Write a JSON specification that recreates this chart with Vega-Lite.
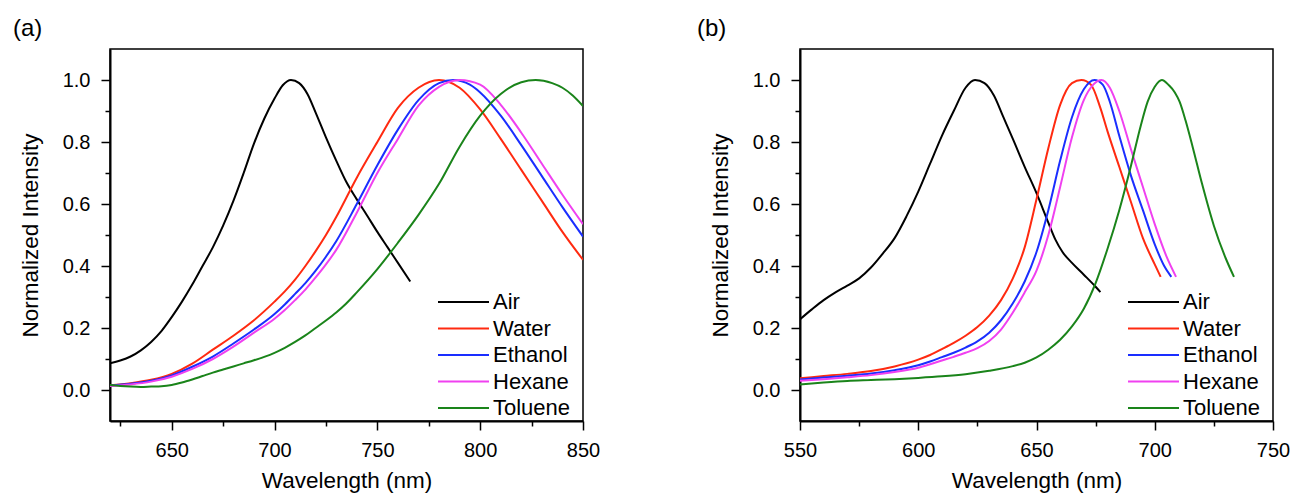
{
  "$schema": "https://vega.github.io/schema/vega-lite/v6.json",
  "background": "white",
  "padding": {"left": 12, "top": 16, "right": 5, "bottom": 0},
  "spacing": 95,
  "config": {
    "font": "Liberation Sans",
    "view": {"stroke": "black", "strokeWidth": 1.5},
    "axis": {"domainColor": "black", "domainWidth": 2, "tickColor": "black", "tickWidth": 1.5, "grid": false, "labelFontSize": 20, "titleFontSize": 22.5, "labelColor": "black", "titleColor": "black", "titleFontWeight": "normal", "labelFont": "Liberation Sans", "titleFont": "Liberation Sans"},
    "legend": {"labelFont": "Liberation Sans", "labelFontSize": 22, "labelColor": "black"},
    "title": {"fontSize": 24, "fontWeight": "normal", "anchor": "start", "frame": "group", "font": "Liberation Sans", "color": "black", "baseline": "alphabetic"}
  },
  "datasets": {
    "a": [
      {"s":"Air","wl":620,"I":0.086},{"s":"Air","wl":625,"I":0.095},{"s":"Air","wl":630,"I":0.108},{"s":"Air","wl":635,"I":0.128},{"s":"Air","wl":640,"I":0.155},{"s":"Air","wl":645,"I":0.19},{"s":"Air","wl":650,"I":0.235},{"s":"Air","wl":655,"I":0.285},{"s":"Air","wl":660,"I":0.34},{"s":"Air","wl":665,"I":0.4},{"s":"Air","wl":670,"I":0.46},{"s":"Air","wl":675,"I":0.53},{"s":"Air","wl":680,"I":0.61},{"s":"Air","wl":685,"I":0.7},{"s":"Air","wl":690,"I":0.795},{"s":"Air","wl":695,"I":0.875},{"s":"Air","wl":700,"I":0.94},{"s":"Air","wl":704,"I":0.983},{"s":"Air","wl":708,"I":1.0},{"s":"Air","wl":712,"I":0.99},{"s":"Air","wl":716,"I":0.955},{"s":"Air","wl":720,"I":0.895},{"s":"Air","wl":725,"I":0.815},{"s":"Air","wl":730,"I":0.74},{"s":"Air","wl":735,"I":0.67},{"s":"Air","wl":740,"I":0.615},{"s":"Air","wl":745,"I":0.563},{"s":"Air","wl":750,"I":0.51},{"s":"Air","wl":755,"I":0.46},{"s":"Air","wl":760,"I":0.41},{"s":"Air","wl":766,"I":0.35},
      {"s":"Water","wl":620,"I":0.015},{"s":"Water","wl":630,"I":0.022},{"s":"Water","wl":640,"I":0.033},{"s":"Water","wl":650,"I":0.052},{"s":"Water","wl":660,"I":0.085},{"s":"Water","wl":670,"I":0.13},{"s":"Water","wl":680,"I":0.175},{"s":"Water","wl":690,"I":0.225},{"s":"Water","wl":700,"I":0.285},{"s":"Water","wl":705,"I":0.318},{"s":"Water","wl":710,"I":0.356},{"s":"Water","wl":715,"I":0.4},{"s":"Water","wl":720,"I":0.448},{"s":"Water","wl":725,"I":0.5},{"s":"Water","wl":730,"I":0.558},{"s":"Water","wl":740,"I":0.685},{"s":"Water","wl":750,"I":0.8},{"s":"Water","wl":760,"I":0.91},{"s":"Water","wl":770,"I":0.975},{"s":"Water","wl":780,"I":1.0},{"s":"Water","wl":790,"I":0.975},{"s":"Water","wl":800,"I":0.905},{"s":"Water","wl":810,"I":0.81},{"s":"Water","wl":820,"I":0.71},{"s":"Water","wl":830,"I":0.61},{"s":"Water","wl":840,"I":0.51},{"s":"Water","wl":850,"I":0.42},
      {"s":"Ethanol","wl":620,"I":0.014},{"s":"Ethanol","wl":630,"I":0.02},{"s":"Ethanol","wl":640,"I":0.03},{"s":"Ethanol","wl":650,"I":0.047},{"s":"Ethanol","wl":660,"I":0.075},{"s":"Ethanol","wl":670,"I":0.108},{"s":"Ethanol","wl":680,"I":0.15},{"s":"Ethanol","wl":690,"I":0.195},{"s":"Ethanol","wl":700,"I":0.245},{"s":"Ethanol","wl":705,"I":0.276},{"s":"Ethanol","wl":710,"I":0.31},{"s":"Ethanol","wl":715,"I":0.345},{"s":"Ethanol","wl":720,"I":0.385},{"s":"Ethanol","wl":725,"I":0.43},{"s":"Ethanol","wl":730,"I":0.48},{"s":"Ethanol","wl":740,"I":0.6},{"s":"Ethanol","wl":750,"I":0.725},{"s":"Ethanol","wl":760,"I":0.84},{"s":"Ethanol","wl":770,"I":0.935},{"s":"Ethanol","wl":780,"I":0.99},{"s":"Ethanol","wl":787,"I":1.0},{"s":"Ethanol","wl":795,"I":0.985},{"s":"Ethanol","wl":800,"I":0.96},{"s":"Ethanol","wl":810,"I":0.885},{"s":"Ethanol","wl":820,"I":0.79},{"s":"Ethanol","wl":830,"I":0.69},{"s":"Ethanol","wl":840,"I":0.59},{"s":"Ethanol","wl":850,"I":0.495},
      {"s":"Hexane","wl":620,"I":0.013},{"s":"Hexane","wl":630,"I":0.018},{"s":"Hexane","wl":640,"I":0.027},{"s":"Hexane","wl":650,"I":0.043},{"s":"Hexane","wl":660,"I":0.068},{"s":"Hexane","wl":670,"I":0.1},{"s":"Hexane","wl":680,"I":0.14},{"s":"Hexane","wl":690,"I":0.185},{"s":"Hexane","wl":700,"I":0.23},{"s":"Hexane","wl":705,"I":0.258},{"s":"Hexane","wl":710,"I":0.29},{"s":"Hexane","wl":715,"I":0.324},{"s":"Hexane","wl":720,"I":0.363},{"s":"Hexane","wl":725,"I":0.405},{"s":"Hexane","wl":730,"I":0.452},{"s":"Hexane","wl":740,"I":0.572},{"s":"Hexane","wl":750,"I":0.7},{"s":"Hexane","wl":760,"I":0.81},{"s":"Hexane","wl":770,"I":0.917},{"s":"Hexane","wl":780,"I":0.978},{"s":"Hexane","wl":790,"I":1.0},{"s":"Hexane","wl":800,"I":0.985},{"s":"Hexane","wl":810,"I":0.92},{"s":"Hexane","wl":820,"I":0.83},{"s":"Hexane","wl":830,"I":0.73},{"s":"Hexane","wl":840,"I":0.63},{"s":"Hexane","wl":850,"I":0.535},
      {"s":"Toluene","wl":620,"I":0.016},{"s":"Toluene","wl":625,"I":0.013},{"s":"Toluene","wl":630,"I":0.011},{"s":"Toluene","wl":635,"I":0.01},{"s":"Toluene","wl":640,"I":0.011},{"s":"Toluene","wl":645,"I":0.012},{"s":"Toluene","wl":650,"I":0.016},{"s":"Toluene","wl":655,"I":0.024},{"s":"Toluene","wl":660,"I":0.034},{"s":"Toluene","wl":665,"I":0.045},{"s":"Toluene","wl":670,"I":0.056},{"s":"Toluene","wl":675,"I":0.066},{"s":"Toluene","wl":680,"I":0.076},{"s":"Toluene","wl":685,"I":0.086},{"s":"Toluene","wl":690,"I":0.096},{"s":"Toluene","wl":695,"I":0.107},{"s":"Toluene","wl":700,"I":0.12},{"s":"Toluene","wl":705,"I":0.136},{"s":"Toluene","wl":710,"I":0.155},{"s":"Toluene","wl":715,"I":0.176},{"s":"Toluene","wl":720,"I":0.2},{"s":"Toluene","wl":725,"I":0.224},{"s":"Toluene","wl":730,"I":0.25},{"s":"Toluene","wl":735,"I":0.28},{"s":"Toluene","wl":740,"I":0.315},{"s":"Toluene","wl":750,"I":0.39},{"s":"Toluene","wl":760,"I":0.475},{"s":"Toluene","wl":770,"I":0.565},{"s":"Toluene","wl":780,"I":0.665},{"s":"Toluene","wl":790,"I":0.785},{"s":"Toluene","wl":800,"I":0.885},{"s":"Toluene","wl":810,"I":0.955},{"s":"Toluene","wl":820,"I":0.993},{"s":"Toluene","wl":827,"I":1.0},{"s":"Toluene","wl":835,"I":0.99},{"s":"Toluene","wl":840,"I":0.975},{"s":"Toluene","wl":845,"I":0.95},{"s":"Toluene","wl":850,"I":0.916}
    ],
    "b": [
      {"s":"Air","wl":550,"I":0.228},{"s":"Air","wl":555,"I":0.26},{"s":"Air","wl":560,"I":0.29},{"s":"Air","wl":565,"I":0.315},{"s":"Air","wl":570,"I":0.337},{"s":"Air","wl":575,"I":0.36},{"s":"Air","wl":580,"I":0.395},{"s":"Air","wl":585,"I":0.44},{"s":"Air","wl":590,"I":0.49},{"s":"Air","wl":595,"I":0.56},{"s":"Air","wl":600,"I":0.64},{"s":"Air","wl":605,"I":0.73},{"s":"Air","wl":610,"I":0.82},{"s":"Air","wl":615,"I":0.9},{"s":"Air","wl":620,"I":0.975},{"s":"Air","wl":624,"I":1.0},{"s":"Air","wl":628,"I":0.99},{"s":"Air","wl":632,"I":0.95},{"s":"Air","wl":636,"I":0.88},{"s":"Air","wl":640,"I":0.81},{"s":"Air","wl":645,"I":0.72},{"s":"Air","wl":650,"I":0.635},{"s":"Air","wl":655,"I":0.54},{"s":"Air","wl":658,"I":0.485},{"s":"Air","wl":661,"I":0.445},{"s":"Air","wl":665,"I":0.41},{"s":"Air","wl":670,"I":0.372},{"s":"Air","wl":675,"I":0.333},{"s":"Air","wl":677,"I":0.316},
      {"s":"Water","wl":550,"I":0.038},{"s":"Water","wl":560,"I":0.045},{"s":"Water","wl":570,"I":0.052},{"s":"Water","wl":580,"I":0.061},{"s":"Water","wl":590,"I":0.076},{"s":"Water","wl":600,"I":0.098},{"s":"Water","wl":605,"I":0.113},{"s":"Water","wl":610,"I":0.132},{"s":"Water","wl":615,"I":0.152},{"s":"Water","wl":620,"I":0.175},{"s":"Water","wl":625,"I":0.203},{"s":"Water","wl":630,"I":0.24},{"s":"Water","wl":635,"I":0.29},{"s":"Water","wl":640,"I":0.36},{"s":"Water","wl":645,"I":0.46},{"s":"Water","wl":650,"I":0.615},{"s":"Water","wl":655,"I":0.78},{"s":"Water","wl":660,"I":0.92},{"s":"Water","wl":665,"I":0.99},{"s":"Water","wl":669,"I":1.0},{"s":"Water","wl":673,"I":0.985},{"s":"Water","wl":677,"I":0.91},{"s":"Water","wl":680,"I":0.835},{"s":"Water","wl":685,"I":0.72},{"s":"Water","wl":690,"I":0.605},{"s":"Water","wl":695,"I":0.49},{"s":"Water","wl":700,"I":0.405},{"s":"Water","wl":702.5,"I":0.365},
      {"s":"Ethanol","wl":550,"I":0.034},{"s":"Ethanol","wl":560,"I":0.04},{"s":"Ethanol","wl":570,"I":0.046},{"s":"Ethanol","wl":580,"I":0.053},{"s":"Ethanol","wl":590,"I":0.064},{"s":"Ethanol","wl":600,"I":0.08},{"s":"Ethanol","wl":605,"I":0.092},{"s":"Ethanol","wl":610,"I":0.106},{"s":"Ethanol","wl":615,"I":0.12},{"s":"Ethanol","wl":620,"I":0.137},{"s":"Ethanol","wl":625,"I":0.157},{"s":"Ethanol","wl":630,"I":0.185},{"s":"Ethanol","wl":635,"I":0.225},{"s":"Ethanol","wl":640,"I":0.28},{"s":"Ethanol","wl":645,"I":0.35},{"s":"Ethanol","wl":650,"I":0.445},{"s":"Ethanol","wl":655,"I":0.58},{"s":"Ethanol","wl":660,"I":0.74},{"s":"Ethanol","wl":665,"I":0.88},{"s":"Ethanol","wl":670,"I":0.97},{"s":"Ethanol","wl":674.5,"I":1.0},{"s":"Ethanol","wl":678,"I":0.985},{"s":"Ethanol","wl":681,"I":0.93},{"s":"Ethanol","wl":685,"I":0.82},{"s":"Ethanol","wl":690,"I":0.69},{"s":"Ethanol","wl":695,"I":0.58},{"s":"Ethanol","wl":700,"I":0.47},{"s":"Ethanol","wl":704,"I":0.4},{"s":"Ethanol","wl":707,"I":0.365},
      {"s":"Hexane","wl":550,"I":0.03},{"s":"Hexane","wl":560,"I":0.035},{"s":"Hexane","wl":570,"I":0.041},{"s":"Hexane","wl":580,"I":0.048},{"s":"Hexane","wl":590,"I":0.058},{"s":"Hexane","wl":600,"I":0.072},{"s":"Hexane","wl":605,"I":0.083},{"s":"Hexane","wl":610,"I":0.095},{"s":"Hexane","wl":615,"I":0.107},{"s":"Hexane","wl":620,"I":0.12},{"s":"Hexane","wl":625,"I":0.135},{"s":"Hexane","wl":630,"I":0.158},{"s":"Hexane","wl":635,"I":0.195},{"s":"Hexane","wl":640,"I":0.25},{"s":"Hexane","wl":645,"I":0.315},{"s":"Hexane","wl":650,"I":0.385},{"s":"Hexane","wl":655,"I":0.5},{"s":"Hexane","wl":660,"I":0.655},{"s":"Hexane","wl":665,"I":0.815},{"s":"Hexane","wl":670,"I":0.935},{"s":"Hexane","wl":674,"I":0.985},{"s":"Hexane","wl":677.5,"I":1.0},{"s":"Hexane","wl":681,"I":0.975},{"s":"Hexane","wl":685,"I":0.9},{"s":"Hexane","wl":690,"I":0.775},{"s":"Hexane","wl":695,"I":0.655},{"s":"Hexane","wl":700,"I":0.535},{"s":"Hexane","wl":705,"I":0.43},{"s":"Hexane","wl":709,"I":0.365},
      {"s":"Toluene","wl":550,"I":0.018},{"s":"Toluene","wl":560,"I":0.024},{"s":"Toluene","wl":570,"I":0.029},{"s":"Toluene","wl":580,"I":0.032},{"s":"Toluene","wl":590,"I":0.035},{"s":"Toluene","wl":600,"I":0.039},{"s":"Toluene","wl":610,"I":0.044},{"s":"Toluene","wl":620,"I":0.051},{"s":"Toluene","wl":630,"I":0.062},{"s":"Toluene","wl":640,"I":0.077},{"s":"Toluene","wl":645,"I":0.088},{"s":"Toluene","wl":650,"I":0.105},{"s":"Toluene","wl":655,"I":0.13},{"s":"Toluene","wl":660,"I":0.162},{"s":"Toluene","wl":665,"I":0.205},{"s":"Toluene","wl":670,"I":0.262},{"s":"Toluene","wl":675,"I":0.345},{"s":"Toluene","wl":680,"I":0.455},{"s":"Toluene","wl":685,"I":0.58},{"s":"Toluene","wl":690,"I":0.725},{"s":"Toluene","wl":694,"I":0.85},{"s":"Toluene","wl":697,"I":0.93},{"s":"Toluene","wl":700,"I":0.978},{"s":"Toluene","wl":703,"I":1.0},{"s":"Toluene","wl":706,"I":0.983},{"s":"Toluene","wl":708.5,"I":0.96},{"s":"Toluene","wl":710.5,"I":0.93},{"s":"Toluene","wl":713,"I":0.87},{"s":"Toluene","wl":716,"I":0.785},{"s":"Toluene","wl":720,"I":0.665},{"s":"Toluene","wl":725,"I":0.53},{"s":"Toluene","wl":730,"I":0.425},{"s":"Toluene","wl":733.5,"I":0.365}
    ]
  },
  "hconcat": [
    {
      "title": {"text": "(a)", "dx": -97, "offset": 8},
      "width": 473,
      "height": 372,
      "data": {"name": "a"},
      "mark": {"type": "line", "strokeWidth": 2, "clip": true, "interpolate": "monotone"},
      "encoding": {
        "x": {"field": "wl", "type": "quantitative", "title": "Wavelength (nm)",
          "scale": {"domain": [620, 850], "nice": false, "zero": false},
          "axis": {"values": [625, 650, 675, 700, 725, 750, 775, 800, 825, 850], "labelExpr": "datum.value % 50 === 0 ? datum.label : ''",
            "tickSize": {"condition": {"test": "datum.value % 50 === 0", "value": 9}, "value": 5},
            "labelPadding": 10, "titlePadding": 9, "labelFlush": false}},
        "y": {"field": "I", "type": "quantitative", "title": "Normalized Intensity",
          "scale": {"domain": [-0.1, 1.1], "nice": false, "zero": false},
          "axis": {"values": [0, 0.1, 0.2, 0.3, 0.4, 0.5, 0.6, 0.7, 0.8, 0.9, 1.0], "labelExpr": "round(datum.value*10) % 2 === 0 ? format(datum.value, '.1f') : ''",
            "tickSize": {"condition": {"test": "round(datum.value*10) % 2 === 0", "value": 9}, "value": 5},
            "labelPadding": 11, "titlePadding": 20, "labelFlush": false}},
        "color": {"field": "s", "type": "nominal", "sort": ["Air", "Water", "Ethanol", "Hexane", "Toluene"],
          "scale": {"domain": ["Air", "Water", "Ethanol", "Hexane", "Toluene"], "range": ["#000000", "#ff2a10", "#1a2eff", "#f040f0", "#1a841a"]},
          "legend": {"title": null, "orient": "none", "legendX": 327, "legendY": 243, "padding": 0, "symbolType": "stroke", "symbolSize": 2601, "symbolStrokeWidth": 2, "clipHeight": 20, "rowPadding": 4.5, "labelOffset": 3}}
      }
    },
    {
      "title": {"text": "(b)", "dx": -103, "offset": 8},
      "width": 473,
      "height": 372,
      "data": {"name": "b"},
      "mark": {"type": "line", "strokeWidth": 2, "clip": true, "interpolate": "monotone"},
      "encoding": {
        "x": {"field": "wl", "type": "quantitative", "title": "Wavelength (nm)",
          "scale": {"domain": [550, 750], "nice": false, "zero": false},
          "axis": {"values": [550, 575, 600, 625, 650, 675, 700, 725, 750], "labelExpr": "datum.value % 50 === 0 ? datum.label : ''",
            "tickSize": {"condition": {"test": "datum.value % 50 === 0", "value": 9}, "value": 5},
            "labelPadding": 10, "titlePadding": 9, "labelFlush": false}},
        "y": {"field": "I", "type": "quantitative", "title": "Normalized Intensity",
          "scale": {"domain": [-0.1, 1.1], "nice": false, "zero": false},
          "axis": {"values": [0, 0.1, 0.2, 0.3, 0.4, 0.5, 0.6, 0.7, 0.8, 0.9, 1.0], "labelExpr": "round(datum.value*10) % 2 === 0 ? format(datum.value, '.1f') : ''",
            "tickSize": {"condition": {"test": "round(datum.value*10) % 2 === 0", "value": 9}, "value": 5},
            "labelPadding": 11, "titlePadding": 20, "labelFlush": false}},
        "color": {"field": "s", "type": "nominal", "sort": ["Air", "Water", "Ethanol", "Hexane", "Toluene"],
          "scale": {"domain": ["Air", "Water", "Ethanol", "Hexane", "Toluene"], "range": ["#000000", "#ff2a10", "#1a2eff", "#f040f0", "#1a841a"]},
          "legend": {"title": null, "orient": "none", "legendX": 327, "legendY": 243, "padding": 0, "symbolType": "stroke", "symbolSize": 2601, "symbolStrokeWidth": 2, "clipHeight": 20, "rowPadding": 4.5, "labelOffset": 3}}
      }
    }
  ],
  "resolve": {"scale": {"color": "independent"}, "legend": {"color": "independent"}}
}
